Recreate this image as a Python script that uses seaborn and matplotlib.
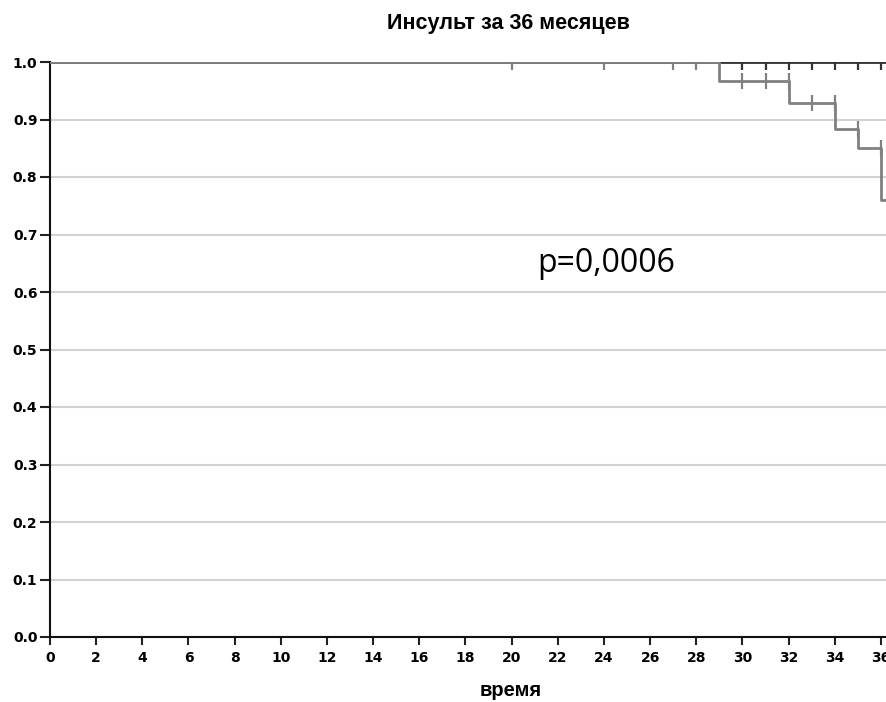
import numpy as np
import pandas as pd
import seaborn as sns
import matplotlib.pyplot as plt

# Kaplan-Meier steps
grey_time = [0, 29, 32, 34, 35, 36, 37]
grey_surv = [1.0, 0.967, 0.929, 0.883, 0.850, 0.760, 0.760]
grey_cens_time = [20, 24, 27, 28, 30, 31, 32, 33, 34, 35, 36]
grey_cens_surv = [1.0, 1.0, 1.0, 1.0, 0.967, 0.967, 0.967, 0.929, 0.929, 0.883, 0.850]

dark_time = [0, 37]
dark_surv = [1.0, 1.0]
dark_cens_time = [30, 31, 32, 33, 34, 35, 36]
dark_cens_surv = [1.0, 1.0, 1.0, 1.0, 1.0, 1.0, 1.0]

x_ticks = list(range(0, 37, 2))
y_ticks = [round(v * 0.1, 1) for v in range(11)]

title = "Инсульт за 36 месяцев"
x_label = "время"
p_text = "p=0,0006"

sns.set_theme(style="white")
plt.rcParams['font.family'] = ['DejaVu Sans']
plt.rcParams['text.color'] = 'black'
plt.rcParams['xtick.color'] = 'black'
plt.rcParams['ytick.color'] = 'black'

fig = plt.figure(figsize=(8.87, 7.02), dpi=100)
ax = fig.add_axes([50 / 887, 1 - 637 / 702, 1 - 50 / 887, (637 - 62) / 702])

dark_line = pd.DataFrame({"t": dark_time, "s": dark_surv})
grey_line = pd.DataFrame({"t": grey_time, "s": grey_surv})
dark_cens = pd.DataFrame({"t": dark_cens_time, "s": dark_cens_surv})
grey_cens = pd.DataFrame({"t": grey_cens_time, "s": grey_cens_surv})

sns.lineplot(data=dark_line, x="t", y="s", ax=ax, color="#333333", lw=2,
             estimator=None, sort=False, drawstyle="steps-post", zorder=3)
sns.scatterplot(data=dark_cens, x="t", y="s", ax=ax, marker="|", s=120,
                color="#333333", linewidth=1.6, zorder=3)
sns.lineplot(data=grey_line, x="t", y="s", ax=ax, color="#808080", lw=2,
             estimator=None, sort=False, drawstyle="steps-post", zorder=4)
sns.scatterplot(data=grey_cens, x="t", y="s", ax=ax, marker="|", s=120,
                color="#808080", linewidth=1.6, zorder=4)

ax.set_xlim(0, 837 / (831 / 36))
ax.set_ylim(0, 1.0)
ax.set_xticks(x_ticks)
ax.set_yticks(y_ticks)
ax.set_yticklabels([f"{v:.1f}" for v in y_ticks])
ax.yaxis.grid(True, color="#d2d2d2", lw=1.5)
ax.xaxis.grid(False)
ax.set_axisbelow(True)

for side in ["top", "right"]:
    ax.spines[side].set_visible(False)
for side in ["left", "bottom"]:
    ax.spines[side].set_color("#111111")
    ax.spines[side].set_linewidth(1.5)

ax.tick_params(axis="y", direction="out", length=7, width=1.5, color="#222222",
               labelsize=10, pad=2, left=True)
ax.tick_params(axis="x", direction="out", length=6, width=1.5, color="#222222",
               labelsize=10, pad=4, bottom=True)
for lab in ax.get_xticklabels() + ax.get_yticklabels():
    lab.set_fontweight("bold")

ax.set_xlabel("")
ax.set_ylabel("")
fig.text(508 / 887, 1 - 24 / 702, title, ha="center", va="center",
         fontsize=15.5, fontweight="bold", family="Liberation Sans")
fig.text(511 / 887, 1 - 690 / 702, x_label, ha="center", va="center",
         fontsize=14.5, fontweight="bold", family="Liberation Sans")
ax.text(21.1, 0.65, p_text, ha="left", va="center", fontsize=23,
        family="Open Sans")

plt.savefig("out.png", dpi=100)
plt.close()
